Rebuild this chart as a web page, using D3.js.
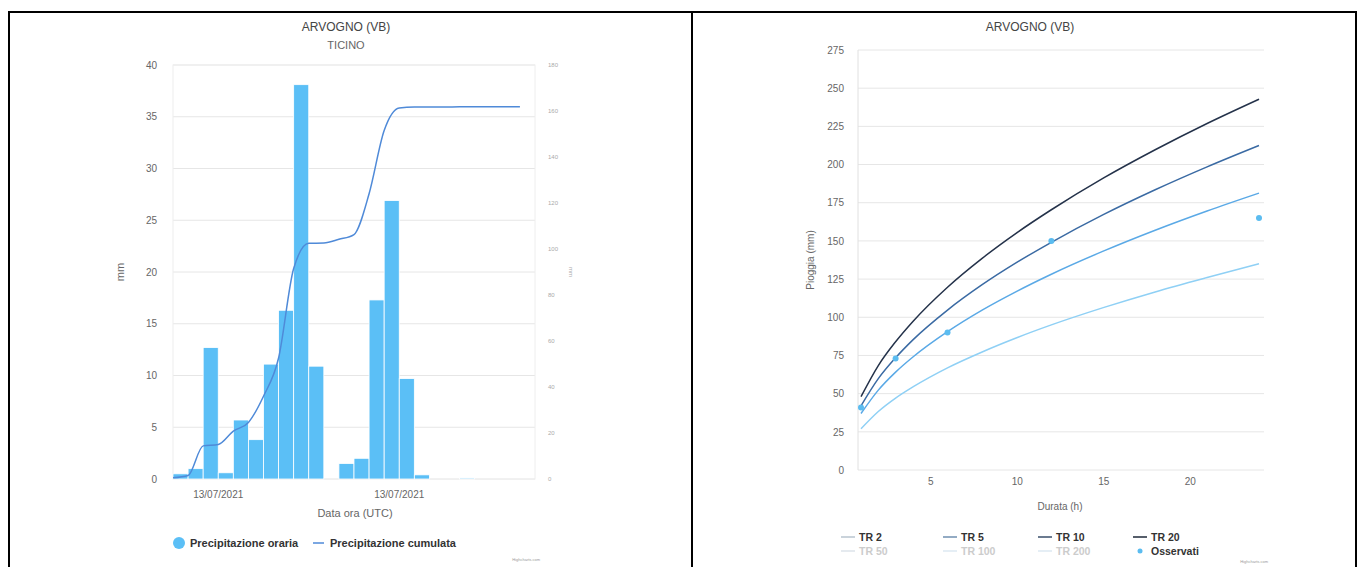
<!DOCTYPE html>
<html>
<head>
<meta charset="utf-8">
<script src="https://cdn.jsdelivr.net/npm/d3@7"></script>
<style>
  html, body { margin: 0; padding: 0; background: #fff; }
  svg { display: block; font-family: "Liberation Sans", Arial, sans-serif; }
</style>
</head>
<body>
<svg id="chart" width="1358" height="567"></svg>
<script>
// ---- Hourly rainfall, station ARVOGNO (VB), basin TICINO ----
const hourIndex = d3.range(24);
const hourlyRain = [0.5, 1.0, 12.7, 0.6, 5.7, 3.8, 11.1, 16.3, 38.1, 10.9, 0, 1.5,
                    2.0, 17.3, 26.9, 9.7, 0.4, 0, 0, 0.1, 0, 0, 0, 0];
const cumulativeRain = [0.5, 1.5, 14.4, 15.0, 20.8, 24.6, 36.0, 52.6, 91.5, 102.5, 102.6, 104.2,
                        106.3, 124.0, 151.5, 161.3, 161.7, 161.7, 161.7, 161.8, 161.8, 161.8, 161.8, 161.8];
const dateTickIndex = [3, 15];
const dateTickLabels = ["13/07/2021", "13/07/2021"];
const leftTicks = [0, 5, 10, 15, 20, 25, 30, 35, 40];
const rightTicks = [0, 20, 40, 60, 80, 100, 120, 140, 160, 180];

// ---- Depth-duration curves (return periods) and observed maxima ----
const durations = [1, 2, 3, 4, 6, 8, 10, 12, 15, 18, 21, 24];
const tr2  = [27, 38.3, 47.1, 54.4, 66.9, 77.3, 86.6, 95.0, 106.3, 116.6, 126.0, 135.0];
const tr5  = [37, 52.3, 64.1, 74.0, 90.6, 104.7, 117.0, 128.2, 143.3, 157.0, 169.6, 181.3];
const tr10 = [42, 59.8, 73.5, 85.2, 104.7, 121.3, 135.9, 149.1, 167.2, 183.5, 198.5, 212.5];
const tr20 = [48, 68.4, 84.0, 97.3, 119.7, 138.6, 155.3, 170.4, 191.1, 209.7, 226.9, 242.8];
const observedDurations = [1, 3, 6, 12, 24];
const observedRain = [41, 73, 90, 150, 165];
const pioggiaTicks = [0, 25, 50, 75, 100, 125, 150, 175, 200, 225, 250, 275];
const durataTicks = [5, 10, 15, 20];

const svg = d3.select("#chart");
const gridColor = "#e6e6e6";
const labelColor = "#666";

// Outer frame with the two panels
svg.append("rect").attr("x", 9).attr("y", 12).attr("width", 1347).attr("height", 580)
  .attr("fill", "none").attr("stroke", "#000").attr("stroke-width", 2);
svg.append("line").attr("x1", 692).attr("x2", 692).attr("y1", 12).attr("y2", 567)
  .attr("stroke", "#000").attr("stroke-width", 2);

// ================= Left panel: hourly + cumulative rainfall =================
const L = { left: 173, right: 535, top: 65, bottom: 479 };
const xBand = d3.scaleBand().domain(hourIndex).range([L.left, L.right]).padding(0);
const yLeft = d3.scaleLinear().domain([0, 40]).range([L.bottom, L.top]);
const yRight = d3.scaleLinear().domain([0, 180]).range([L.bottom, L.top]);

svg.append("text").attr("x", 346).attr("y", 31).attr("text-anchor", "middle")
  .attr("font-size", 12).attr("fill", "#444").text("ARVOGNO (VB)");
svg.append("text").attr("x", 346).attr("y", 49).attr("text-anchor", "middle")
  .attr("font-size", 11).attr("fill", "#666").text("TICINO");

// Horizontal gridlines + left axis
svg.append("g").selectAll("line").data(leftTicks).join("line")
  .attr("x1", L.left).attr("x2", L.right)
  .attr("y1", d => yLeft(d)).attr("y2", d => yLeft(d))
  .attr("stroke", gridColor).attr("stroke-width", 1);
svg.append("rect").attr("x", L.left).attr("y", L.top).attr("width", L.right - L.left)
  .attr("height", L.bottom - L.top).attr("fill", "none").attr("stroke", "#eeeeee");

const axisLeft = d3.axisLeft(yLeft).tickValues(leftTicks).tickSize(0).tickPadding(0);
svg.append("g").attr("transform", `translate(${L.left - 16},0)`).call(axisLeft)
  .call(g => g.select(".domain").remove())
  .call(g => g.selectAll("text").attr("font-size", 10).attr("fill", labelColor)
    .attr("font-family", "Liberation Sans, Arial, sans-serif"));

const axisRight = d3.axisRight(yRight).tickValues(rightTicks).tickSize(0).tickPadding(0);
svg.append("g").attr("transform", `translate(${L.right + 13},0)`).call(axisRight)
  .call(g => g.select(".domain").remove())
  .call(g => g.selectAll("text").attr("font-size", 6).attr("fill", "#aaa")
    .attr("font-family", "Liberation Sans, Arial, sans-serif"));

svg.append("text").attr("transform", `translate(124,${(L.top + L.bottom) / 2}) rotate(-90)`)
  .attr("text-anchor", "middle").attr("font-size", 11).attr("fill", labelColor).text("mm");
svg.append("text").attr("transform", `translate(569,${(L.top + L.bottom) / 2}) rotate(90)`)
  .attr("text-anchor", "middle").attr("font-size", 6).attr("fill", "#aaa").text("mm");

// Bars
svg.append("g").selectAll("rect").data(hourIndex).join("rect")
  .attr("x", i => xBand(i))
  .attr("y", i => yLeft(hourlyRain[i]))
  .attr("width", xBand.bandwidth())
  .attr("height", i => yLeft(0) - yLeft(hourlyRain[i]))
  .attr("fill", "#5bbff6").attr("stroke", "#fff").attr("stroke-width", 0.8);

// Cumulative line
const cumLine = d3.line()
  .x(i => xBand(i))
  .y(i => yRight(cumulativeRain[i]))
  .curve(d3.curveMonotoneX);
svg.append("path").datum(hourIndex).attr("d", cumLine)
  .attr("fill", "none").attr("stroke", "#4f8ad8").attr("stroke-width", 1.5);

// Date labels
svg.append("g").selectAll("text").data(dateTickIndex).join("text")
  .attr("x", i => xBand(i)).attr("y", 498).attr("text-anchor", "middle")
  .attr("font-size", 10).attr("fill", labelColor)
  .text((d, k) => dateTickLabels[k]);
svg.append("text").attr("x", 355).attr("y", 517).attr("text-anchor", "middle")
  .attr("font-size", 11).attr("fill", labelColor).text("Data ora (UTC)");

// Legend
svg.append("circle").attr("cx", 179).attr("cy", 543).attr("r", 6).attr("fill", "#5bbff6");
svg.append("text").attr("x", 190).attr("y", 547).attr("font-size", 11).attr("font-weight", "bold")
  .attr("fill", "#333").text("Precipitazione oraria");
svg.append("line").attr("x1", 313).attr("x2", 324).attr("y1", 543).attr("y2", 543)
  .attr("stroke", "#4f8ad8").attr("stroke-width", 1.5);
svg.append("text").attr("x", 330).attr("y", 547).attr("font-size", 11).attr("font-weight", "bold")
  .attr("fill", "#333").text("Precipitazione cumulata");
svg.append("text").attr("x", 540).attr("y", 561).attr("text-anchor", "end")
  .attr("font-size", 4).attr("fill", "#999").text("Highcharts.com");

// ================= Right panel: depth-duration curves =================
const R = { left: 858, right: 1264, top: 50, bottom: 470 };
const xDur = d3.scaleLinear().domain([1, 24]).range([861, 1259]);
const yRain = d3.scaleLinear().domain([0, 275]).range([R.bottom, R.top]);

svg.append("text").attr("x", 1030).attr("y", 31).attr("text-anchor", "middle")
  .attr("font-size", 12).attr("fill", "#444").text("ARVOGNO (VB)");

svg.append("g").selectAll("line").data(pioggiaTicks).join("line")
  .attr("x1", R.left).attr("x2", R.right)
  .attr("y1", d => yRain(d)).attr("y2", d => yRain(d))
  .attr("stroke", gridColor).attr("stroke-width", 1);
svg.append("line").attr("x1", R.left).attr("x2", R.left).attr("y1", R.top).attr("y2", R.bottom)
  .attr("stroke", "#e0e0e0");

svg.append("g").attr("transform", `translate(${R.left - 14},0)`)
  .call(d3.axisLeft(yRain).tickValues(pioggiaTicks).tickSize(0).tickPadding(0))
  .call(g => g.select(".domain").remove())
  .call(g => g.selectAll("text").attr("font-size", 10).attr("fill", labelColor)
    .attr("font-family", "Liberation Sans, Arial, sans-serif"));
svg.append("g").attr("transform", `translate(0,${R.bottom + 8})`)
  .call(d3.axisBottom(xDur).tickValues(durataTicks).tickSize(0).tickPadding(0))
  .call(g => g.select(".domain").remove())
  .call(g => g.selectAll("text").attr("font-size", 10).attr("fill", labelColor)
    .attr("font-family", "Liberation Sans, Arial, sans-serif"));

svg.append("text").attr("transform", `translate(814,${(R.top + R.bottom) / 2}) rotate(-90)`)
  .attr("text-anchor", "middle").attr("font-size", 10).attr("fill", labelColor).text("Pioggia (mm)");
svg.append("text").attr("x", 1060).attr("y", 510).attr("text-anchor", "middle")
  .attr("font-size", 10).attr("fill", labelColor).text("Durata (h)");

const curves = [
  { name: "TR 2", values: tr2, color: "#8fd0f5" },
  { name: "TR 5", values: tr5, color: "#5aa9e6" },
  { name: "TR 10", values: tr10, color: "#3a6aa3" },
  { name: "TR 20", values: tr20, color: "#24324a" }
];
const ddLine = d3.line().curve(d3.curveMonotoneX);
svg.append("g").selectAll("path").data(curves).join("path")
  .attr("d", c => ddLine(durations.map((d, k) => [xDur(d), yRain(c.values[k])])))
  .attr("fill", "none").attr("stroke", c => c.color).attr("stroke-width", 1.5);

svg.append("g").selectAll("circle").data(observedDurations).join("circle")
  .attr("cx", d => xDur(d)).attr("cy", (d, k) => yRain(observedRain[k]))
  .attr("r", 3).attr("fill", "#5bbcf0");

// Legend (hidden series greyed out)
const legendItems = [
  { name: "TR 2", color: "#b8c4cf", x: 841, y: 537, active: true },
  { name: "TR 5", color: "#6f8fb0", x: 943, y: 537, active: true },
  { name: "TR 10", color: "#3a4f6b", x: 1038, y: 537, active: true },
  { name: "TR 20", color: "#1f2a3a", x: 1133, y: 537, active: true },
  { name: "TR 50", color: "#dde3ea", x: 841, y: 551, active: false },
  { name: "TR 100", color: "#dde8f2", x: 943, y: 551, active: false },
  { name: "TR 200", color: "#dde8f2", x: 1038, y: 551, active: false }
];
const lg = svg.append("g");
legendItems.forEach(it => {
  lg.append("line").attr("x1", it.x).attr("x2", it.x + 14).attr("y1", it.y).attr("y2", it.y)
    .attr("stroke", it.color).attr("stroke-width", 1.5);
  lg.append("text").attr("x", it.x + 18).attr("y", it.y + 4).attr("font-size", 10.5)
    .attr("font-weight", "bold").attr("fill", it.active ? "#333" : "#ccc").text(it.name);
});
lg.append("circle").attr("cx", 1140).attr("cy", 551).attr("r", 2.5).attr("fill", "#5bbcf0");
lg.append("text").attr("x", 1151).attr("y", 555).attr("font-size", 10.5)
  .attr("font-weight", "bold").attr("fill", "#333").text("Osservati");
svg.append("text").attr("x", 1268).attr("y", 563).attr("text-anchor", "end")
  .attr("font-size", 4).attr("fill", "#999").text("Highcharts.com");
</script>
</body>
</html>
